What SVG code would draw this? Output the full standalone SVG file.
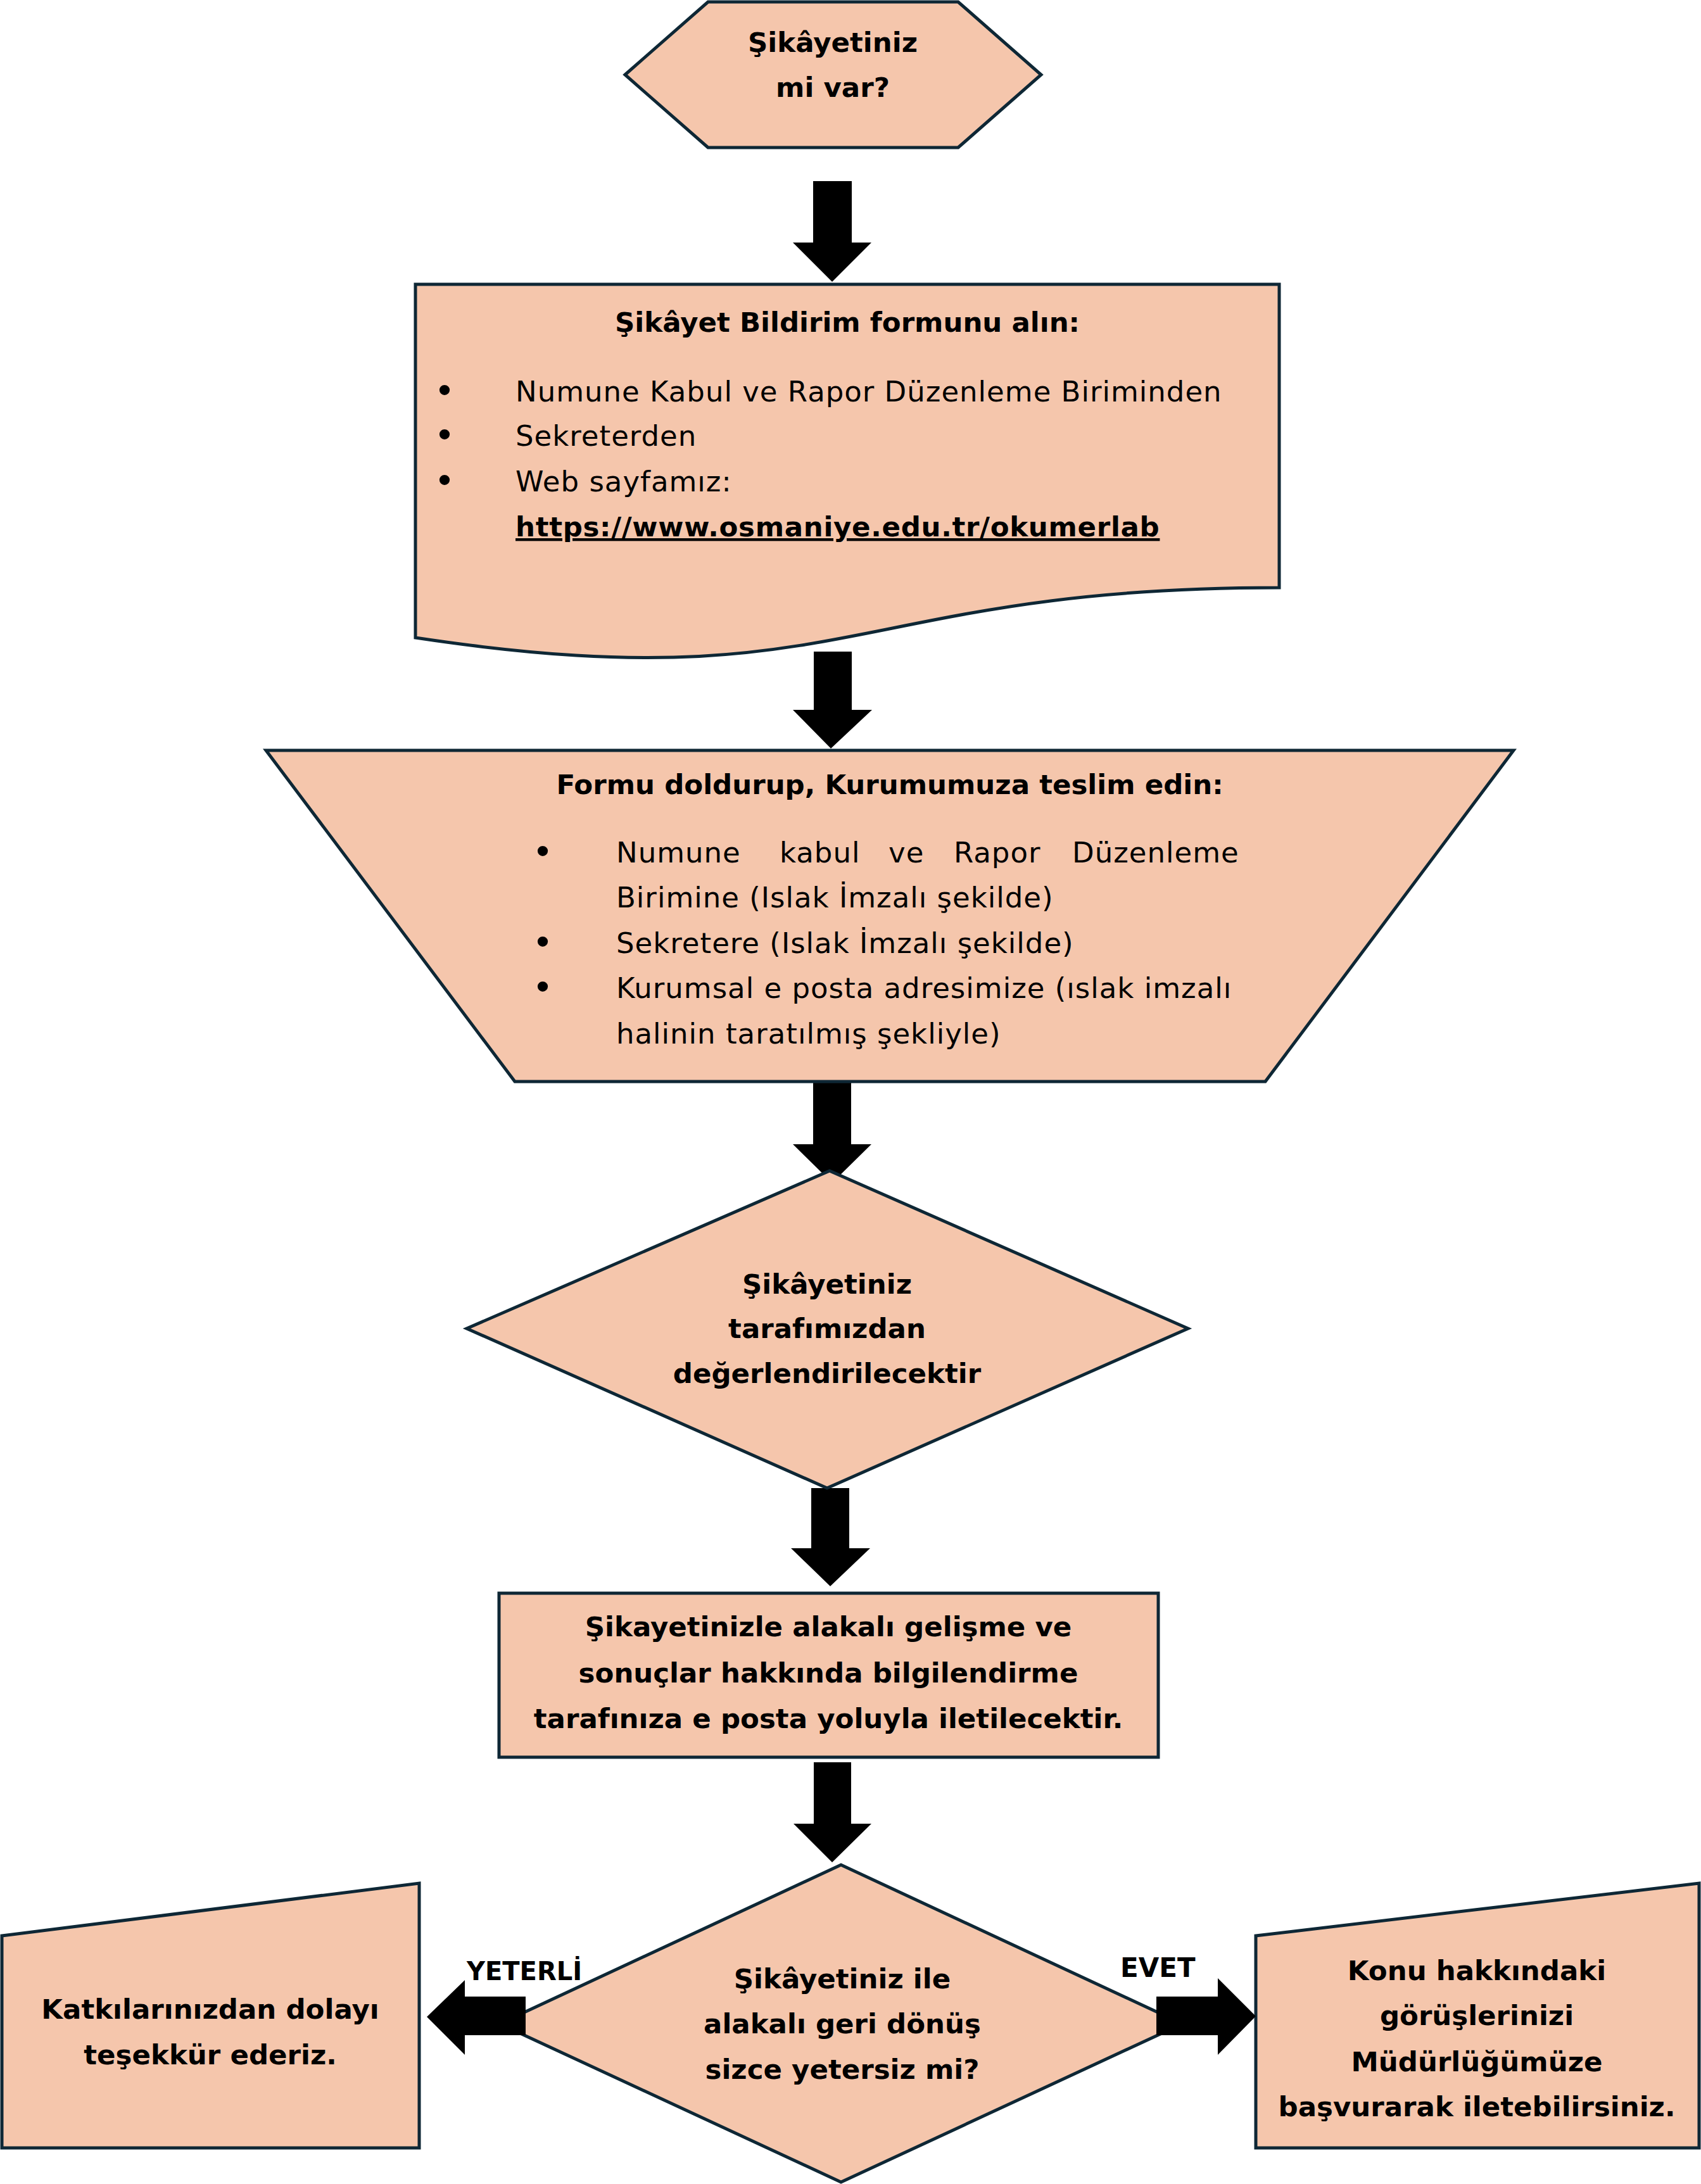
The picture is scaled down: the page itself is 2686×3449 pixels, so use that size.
<svg xmlns="http://www.w3.org/2000/svg" width="2686" height="3449" viewBox="0 0 2686 3449">
<style>
.shape{fill:#F5C6AC;stroke:#0E2735;stroke-width:5;stroke-linejoin:miter}
.b{font-family:"DejaVu Sans",sans-serif;font-weight:bold;font-size:43.5px;fill:#000}
.r{font-family:"DejaVu Sans",sans-serif;font-size:45px;letter-spacing:1px;fill:#000}
.c{text-anchor:middle}
.bul{font-family:"Liberation Sans",sans-serif;font-size:60px;text-anchor:middle;fill:#000}
.arrow{fill:#000}
.lbl{font-family:"DejaVu Sans",sans-serif;font-weight:bold;fill:#000}
</style>
<rect width="2686" height="3449" fill="#fff"/>

<g id="connectors">
<polygon class="arrow" points="1284,286 1345,286 1345,383 1376,383 1314,445 1252,383 1284,383"/>
<polygon class="arrow" points="1285,1029 1345,1029 1345,1121 1377,1121 1312,1182 1252,1121 1285,1121"/>
<polygon class="arrow" points="1284,1709 1344,1709 1344,1807 1376,1807 1314,1868 1252,1807 1284,1807"/>
<polygon class="arrow" points="1281,2350 1341,2350 1341,2445 1374,2445 1311,2505 1249,2445 1281,2445"/>
<polygon class="arrow" points="1285,2783 1344,2783 1344,2880 1376,2880 1314,2941 1253,2880 1285,2880"/>
</g>

<g id="n1-start">
<polygon class="shape" points="987,118 1118,3 1513,3 1644,118 1513,233 1118,233"/>
<text class="b c" x="1315" y="82">Şikâyetiniz</text>
<text class="b c" x="1315" y="153">mi var?</text>
</g>

<g id="n2-form">
<path class="shape" d="M656,449 H2020 V928 C1338,928 1338,1110 656,1007 Z"/>
<text class="b c" x="1338" y="524">Şikâyet Bildirim formunu alın:</text>
<text class="bul" x="702" y="636">•</text>
<text class="bul" x="702" y="706">•</text>
<text class="bul" x="702" y="778">•</text>
<text class="r" x="814" y="634">Numune Kabul ve Rapor Düzenleme Biriminden</text>
<text class="r" x="814" y="704">Sekreterden</text>
<text class="r" x="814" y="776">Web sayfamız:</text>
<text class="b" x="814" y="847" letter-spacing="0.7" text-decoration="underline">https://www.osmaniye.edu.tr/okumerlab</text>
</g>

<g id="n3-submit">
<polygon class="shape" points="420,1185 2390,1185 1998,1708 813,1708"/>
<text class="b c" x="1405" y="1254">Formu doldurup, Kurumumuza teslim edin:</text>
<text class="bul" x="857" y="1364">•</text>
<text class="bul" x="857" y="1507">•</text>
<text class="bul" x="857" y="1578">•</text>
<text class="r" y="1362"><tspan x="973">Numune</tspan><tspan x="1231">kabul</tspan><tspan x="1403">ve</tspan><tspan x="1506">Rapor</tspan><tspan x="1693">Düzenleme</tspan></text>
<text class="r" x="973" y="1433">Birimine (Islak İmzalı şekilde)</text>
<text class="r" x="973" y="1505">Sekretere (Islak İmzalı şekilde)</text>
<text class="r" x="973" y="1576">Kurumsal e posta adresimize (ıslak imzalı</text>
<text class="r" x="973" y="1648">halinin taratılmış şekliyle)</text>
</g>

<g id="n4-evaluate">
<polygon class="shape" points="1310,1849 1876,2098 1306,2350 737,2098"/>
<text class="b c" x="1306" y="2043">Şikâyetiniz</text>
<text class="b c" x="1306" y="2113">tarafımızdan</text>
<text class="b c" x="1306" y="2184">değerlendirilecektir</text>
</g>

<g id="n5-inform">
<rect class="shape" x="788" y="2516" width="1041" height="259"/>
<text class="b c" x="1308" y="2584">Şikayetinizle alakalı gelişme ve</text>
<text class="b c" x="1308" y="2657">sonuçlar hakkında bilgilendirme</text>
<text class="b c" x="1308" y="2729">tarafınıza e posta yoluyla iletilecektir.</text>
</g>

<g id="n6-decision">
<polygon class="shape" points="1328,2945 1867,3196 1328,3446 789,3196"/>
<text class="b c" x="1330" y="3140">Şikâyetiniz ile</text>
<text class="b c" x="1330" y="3211">alakalı geri dönüş</text>
<text class="b c" x="1330" y="3283">sizce yetersiz mi?</text>
</g>

<g id="n7-thanks">
<polygon class="shape" points="3,3057 662,2974 662,3392 3,3392"/>
<text class="b c" x="332" y="3188">Katkılarınızdan dolayı</text>
<text class="b c" x="332" y="3260">teşekkür ederiz.</text>
</g>

<g id="n8-apply">
<polygon class="shape" points="1983,3057 2683,2974 2683,3392 1983,3392"/>
<text class="b c" x="2332" y="3127">Konu hakkındaki</text>
<text class="b c" x="2332" y="3198">görüşlerinizi</text>
<text class="b c" x="2332" y="3271">Müdürlüğümüze</text>
<text class="b c" x="2332" y="3342">başvurarak iletebilirsiniz.</text>
</g>

<g id="branch-connectors">
<polygon class="arrow" points="830,3153 830,3214 734,3214 734,3245 674,3185 734,3127 734,3153"/>
<polygon class="arrow" points="1826,3153 1923,3153 1923,3124 1983,3184 1923,3245 1923,3214 1826,3214"/>
<text class="lbl" x="737" y="3127" font-size="40">YETERLİ</text>
<text class="lbl" x="1769" y="3122" font-size="42">EVET</text>
</g>
</svg>
